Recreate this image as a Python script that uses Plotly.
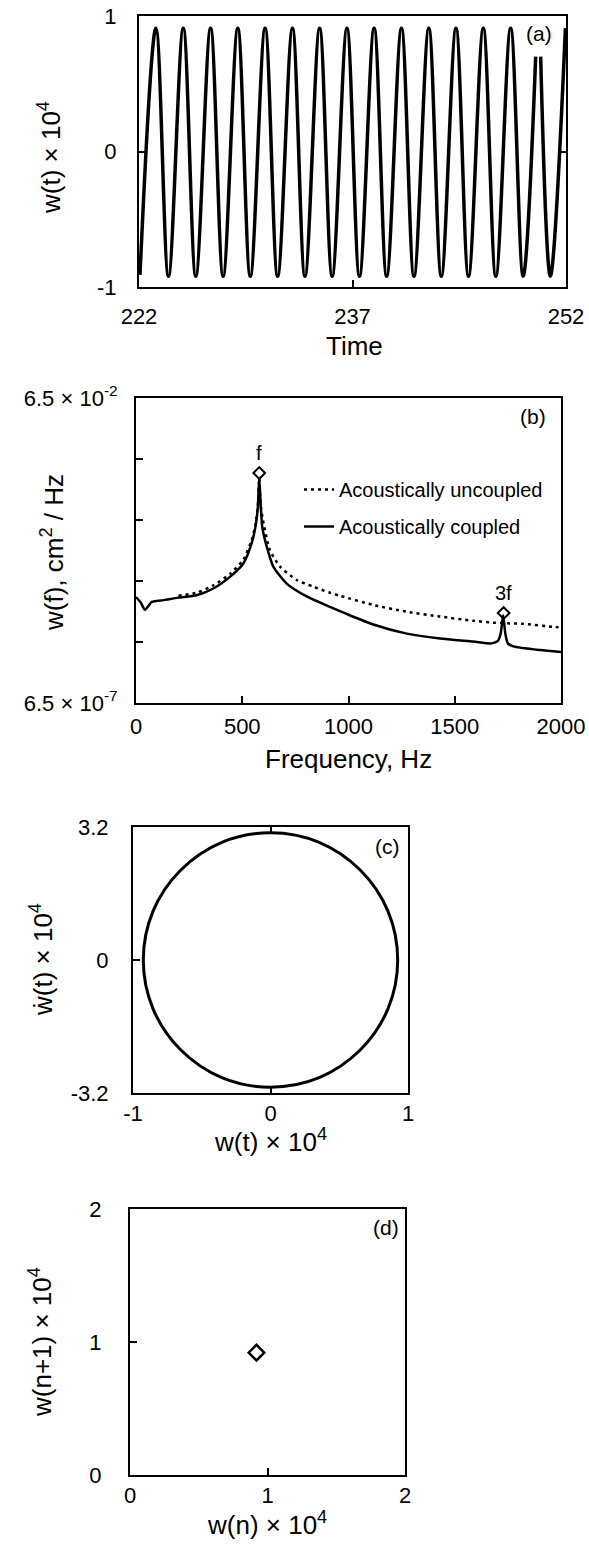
import math
import plotly.graph_objects as go

W, H = 589, 1547

# ---------------- data ----------------
# (a) time series: extrema of w(t) x 1e4 (time, value); None marks the dropout near t=250
time_a = [222.07, 223.19, 224.07, 225.11, 225.99, 227.03, 227.91, 228.94, 229.82, 230.86,
          231.74, 232.78, 233.66, 234.69, 235.57, 236.61, 237.49, 238.52, 239.40, 240.44,
          241.32, 242.36, 243.24, 244.27, 245.15, 246.19, 247.07, 248.11, 248.99, 249.87,
          None, 250.22, 250.90, 251.96]
w_a = [-0.91, 0.91, -0.92, 0.91, -0.92, 0.91, -0.92, 0.91, -0.92, 0.91,
       -0.92, 0.91, -0.92, 0.91, -0.92, 0.91, -0.92, 0.91, -0.92, 0.91,
       -0.92, 0.91, -0.92, 0.91, -0.92, 0.91, -0.92, 0.91, -0.92, 0.70,
       None, 0.70, -0.92, 0.91]

# (b) power spectra
freq_coupled = [0, 22, 42, 75, 130, 200, 285, 364, 442, 505, 544, 562, 573, 580, 587, 594,
                606, 620, 646, 709, 803, 913, 1000, 1117, 1274, 1430, 1587, 1673, 1703,
                1716, 1728, 1738, 1750, 1776, 1901, 2000]
psd_coupled = [3.55e-5, 2.9e-5, 2.19e-5, 2.95e-5, 3.16e-5, 3.47e-5, 3.80e-5, 4.90e-5, 7.59e-5,
               1.26e-4, 2.69e-4, 5.01e-4, 1.0e-3, 3.16e-3, 1.12e-3, 5.01e-4,
               3.16e-4, 2.09e-4, 1.12e-4, 5.89e-5, 3.63e-5, 2.45e-5, 1.82e-5, 1.26e-5,
               8.91e-6, 7.41e-6, 6.61e-6, 6.17e-6, 6.76e-6, 8.91e-6, 1.78e-5, 8.91e-6,
               6.17e-6, 5.50e-6, 4.79e-6, 4.47e-6]
freq_uncoupled = [200, 285, 364, 442, 505, 544, 562, 573, 580, 587, 598, 630, 678, 756, 834,
                  913, 960, 1117, 1274, 1430, 1587, 1680, 1760, 1823, 1964, 2000]
psd_uncoupled = [3.72e-5, 4.17e-5, 5.50e-5, 8.51e-5, 1.45e-4, 3.02e-4, 5.37e-4, 1.05e-3,
                 3.16e-3, 1.12e-3, 6.31e-4, 2.09e-4, 1.12e-4, 6.76e-5, 5.25e-5,
                 4.17e-5, 3.72e-5, 2.63e-5, 2.04e-5, 1.70e-5, 1.45e-5, 1.35e-5, 1.31e-5,
                 1.29e-5, 1.15e-5, 1.12e-5]
peak_freq = [580, 1730]
peak_psd = [3.83e-3, 1.94e-5]
peak_labels = ["f", "3f"]
ytick_b_vals = [6.5e-7, 6.5e-6, 6.5e-5, 6.5e-4, 6.5e-3, 6.5e-2]
ytick_b_text = ["6.5 \u00d7 10<sup>-7</sup>", "", "", "", "", "6.5 \u00d7 10<sup>-2</sup>"]

# (c) phase portrait (w, dw/dt) x 1e4
w_c = [0.925, 0.855, 0.654, 0.354, 0.0, -0.354, -0.654, -0.855, -0.925,
       -0.855, -0.654, -0.354, 0.0, 0.354, 0.654, 0.855, 0.925]
wdot_c = [0.0, 1.17, 2.16, 2.83, 3.06, 2.83, 2.16, 1.17, 0.0,
          -1.17, -2.16, -2.83, -3.06, -2.83, -2.16, -1.17, 0.0]

# (d) return map
w_n = [0.92]
w_n1 = [0.92]

# ---------------- layout helpers ----------------
FONT = "Liberation Sans, Arial, Helvetica, sans-serif"
TICK = 22
TITLE = 26


def dx(l, r):
    return [l / W, r / W]


def dy(t, b):
    return [1 - b / H, 1 - t / H]


def px(x):
    return x / W


def py(y):
    return 1 - y / H


def axis(domain, anchor, rng, tickvals, ticktext, standoff, mirror=True, **kw):
    d = dict(domain=domain, anchor=anchor, range=rng, tickmode="array",
             tickvals=tickvals, ticktext=ticktext, ticks="inside", ticklen=7,
             tickwidth=2, tickcolor="black", showline=True, linewidth=2,
             linecolor="black", mirror=mirror, showgrid=False, zeroline=False,
             automargin=False, ticklabelstandoff=standoff,
             tickfont=dict(family=FONT, size=TICK, color="black"))
    d.update(kw)
    return d


fig = go.Figure()

fig.add_trace(go.Scatter(x=time_a, y=w_a, mode="lines", xaxis="x", yaxis="y",
                         line=dict(color="black", width=3.5, shape="spline", smoothing=1.0),
                         connectgaps=False, showlegend=False))

fig.add_trace(go.Scatter(x=freq_uncoupled, y=psd_uncoupled, mode="lines", xaxis="x2", yaxis="y2",
                         name="Acoustically uncoupled", legendgroup="u",
                         line=dict(color="black", width=2.5, dash="3px,4px",
                                   shape="spline", smoothing=0.6)))
fig.add_trace(go.Scatter(x=freq_coupled, y=psd_coupled, mode="lines", xaxis="x2", yaxis="y2",
                         name="Acoustically coupled", legendgroup="c",
                         line=dict(color="black", width=2.5, shape="spline", smoothing=0.6)))
fig.add_trace(go.Scatter(x=peak_freq, y=peak_psd, mode="markers", xaxis="x2", yaxis="y2",
                         marker=dict(symbol="diamond-open", size=9, color="black",
                                     line=dict(width=2, color="black")),
                         showlegend=False))

fig.add_trace(go.Scatter(x=w_c, y=wdot_c, mode="lines", xaxis="x3", yaxis="y3",
                         line=dict(color="black", width=3, shape="spline"), showlegend=False))

fig.add_trace(go.Scatter(x=w_n, y=w_n1, mode="markers", xaxis="x4", yaxis="y4",
                         marker=dict(symbol="diamond-open", size=12, color="black",
                                     line=dict(width=2.5, color="black")),
                         showlegend=False))

ann = []


def title(text, x, y, angle=0, size=TITLE):
    ann.append(dict(text=text, x=px(x), y=py(y), xref="paper", yref="paper",
                    showarrow=False, textangle=angle, xanchor="center", yanchor="middle",
                    font=dict(family=FONT, size=size, color="black")))


title("Time", 354, 346)
title("w(t) \u00d7 10<sup>4</sup>", 50, 158, -90)
title("Frequency, Hz", 348, 759)
title("w(f), cm<sup>2</sup> / Hz", 52, 553, -90)
title("w(t) \u00d7 10<sup>4</sup>", 270, 1140)
title("\u1e87(t) \u00d7 10<sup>4</sup>", 41, 960, -90)
title("w(n) \u00d7 10<sup>4</sup>", 267, 1523)
title("w(n+1) \u00d7 10<sup>4</sup>", 40, 1342, -90)

for lab, xr, yr, fx, fy in [("(a)", "x", "y", 0.937, 0.937), ("(b)", "x2", "y2", 0.934, 0.938),
                             ("(c)", "x3", "y3", 0.927, 0.925), ("(d)", "x4", "y4", 0.931, 0.929)]:
    ann.append(dict(text=lab, x=fx, y=fy, xref=xr + " domain", yref=yr + " domain",
                    showarrow=False, xanchor="center", yanchor="middle",
                    font=dict(family=FONT, size=21, color="black")))

for f, p, lab in zip(peak_freq, peak_psd, peak_labels):
    ann.append(dict(text=lab, x=f, y=math.log10(p), xref="x2", yref="y2", showarrow=False,
                    yshift=20, xanchor="center", yanchor="middle",
                    font=dict(family=FONT, size=20, color="black")))

fig.update_layout(
    width=W, height=H, margin=dict(l=0, r=0, t=0, b=0),
    paper_bgcolor="white", plot_bgcolor="white", template="none",
    font=dict(family=FONT, color="black"),
    xaxis=axis(dx(139, 566), "y", [222, 252], [222, 237, 252], ["222", "237", "252"], 9),
    yaxis=axis(dy(16, 287), "x", [-1, 1], [-1, 0, 1], ["-1", "0", "1"], 16, mirror="ticks"),
    xaxis2=axis(dx(136, 561), "y2", [0, 2000], [0, 500, 1000, 1500, 2000],
                ["0", "500", "1000", "1500", "2000"], 3),
    yaxis2=axis(dy(398, 703), "x2", [math.log10(6.5e-7), math.log10(6.5e-2)], ytick_b_vals,
                ytick_b_text, 12, type="log"),
    xaxis3=axis(dx(133, 408), "y3", [-1, 1], [-1, 0, 1], ["-1", "0", "1"], 0, mirror="ticks"),
    yaxis3=axis(dy(827, 1093), "x3", [-3.2, 3.2], [-3.2, 0, 3.2], ["-3.2", "0", "3.2"], 18),
    xaxis4=axis(dx(130, 405), "y4", [0, 2], [0, 1, 2], ["0", "1", "2"], 0),
    yaxis4=axis(dy(1209, 1475), "x4", [0, 2], [0, 1, 2], ["0", "1", "2"], 22),
    legend=dict(x=px(299), y=py(470), xanchor="left", yanchor="top",
                bgcolor="rgba(0,0,0,0)", borderwidth=0, traceorder="grouped",
                tracegroupgap=8, font=dict(family=FONT, size=20, color="black")),
    annotations=ann,
    showlegend=True,
)

fig.write_html("out.html")
